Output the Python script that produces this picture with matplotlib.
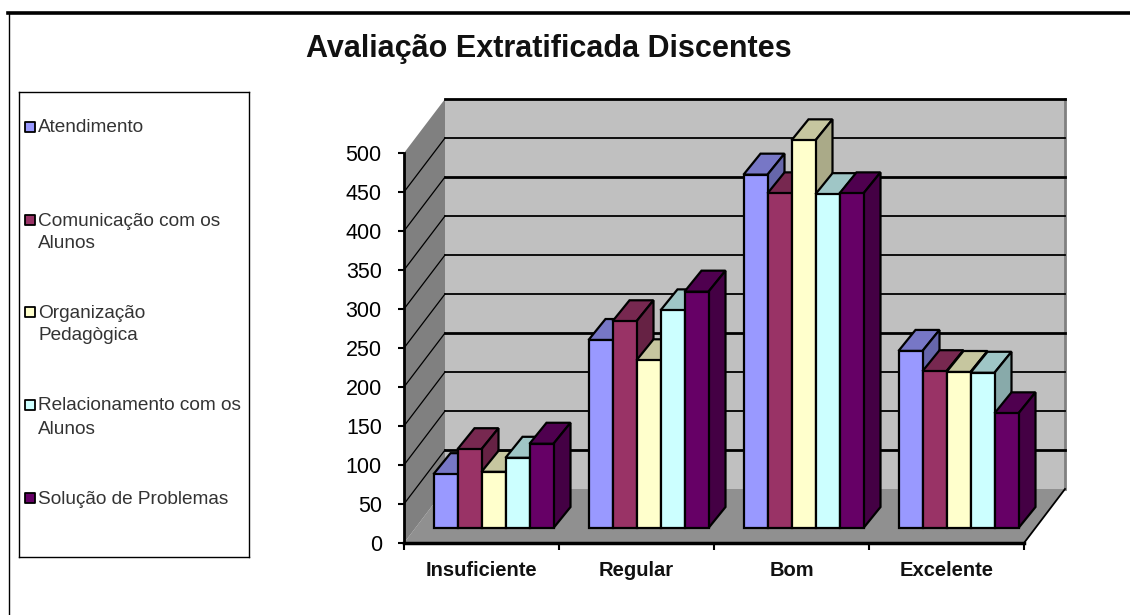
import matplotlib
matplotlib.use("Agg")
import matplotlib.pyplot as plt
from matplotlib.patches import Polygon

plt.rcParams['font.family'] = ['Liberation Sans', 'DejaVu Sans']

categories = ["Insuficiente", "Regular", "Bom", "Excelente"]
series = ["Atendimento", "Comunicação com os\nAlunos", "Organização\nPedagògica",
          "Relacionamento com os\nAlunos", "Solução de Problemas"]
atendimento = [69, 241, 453, 227]
comunicacao = [101, 265, 429, 201]
organizacao = [72, 215, 497, 200]
relacionamento = [90, 279, 428, 199]
solucao = [108, 303, 429, 147]
values = [atendimento, comunicacao, organizacao, relacionamento, solucao]
y_ticks = list(range(0, 501, 50))
thick_grid = [50, 200, 400, 500]

front = ["#9999FF", "#993366", "#FFFFCC", "#CCFFFF", "#660066"]
top = ["#7777C6", "#772850", "#C6C69F", "#9FC6C6", "#4F004F"]
side = ["#6666AA", "#662244", "#AAAA88", "#88AAAA", "#440044"]

W, H = 1130, 615
fig = plt.figure(figsize=(W / 100, H / 100), dpi=100)


def px_axes(x0, y0, x1, y1):
    return fig.add_axes([x0 / W, 1 - y1 / H, (x1 - x0) / W, (y1 - y0) / H])


# front plane of the chart, data units are category index and value
ax = px_axes(404, 153, 1024, 543)
ax.set_xlim(0, 4)
ax.set_ylim(0, 500)
ax.patch.set_visible(False)

# depth of the box and of the bars, in data units
box_dx, box_dy = 41 / 155, 54 / 0.78
bar_dx, bar_dy = 17 / 155, 21 / 0.78
lift_x, lift_y = 12 / 155, 15 / 0.78
bar_w = 24 / 155
gap = (1 - bar_w * 5) / 2


def poly(pts, fc, z, ec="none", lw=0):
    ax.add_patch(Polygon(pts, closed=True, facecolor=fc, edgecolor=ec, linewidth=lw,
                         zorder=z, clip_on=False, joinstyle="miter"))


poly([(box_dx, box_dy), (4 + box_dx, box_dy), (4 + box_dx, 500 + box_dy), (box_dx, 500 + box_dy)], "#C0C0C0", 1)
poly([(0, 0), (box_dx, box_dy), (4 + box_dx, box_dy), (4, 0)], "#909090", 1)
poly([(0, 0), (box_dx, box_dy), (box_dx, 500 + box_dy), (0, 500)], "#808080", 1)
ax.plot([4 + box_dx] * 2, [box_dy, 500 + box_dy], color="#808080", lw=2, zorder=1.5, clip_on=False)

for v in y_ticks[1:]:
    lw = 2.0 if v in thick_grid else 1.3
    ax.plot([box_dx, 4 + box_dx], [v + box_dy, v + box_dy], color="black", lw=lw, zorder=2, clip_on=False)
    if v < 500:
        ax.plot([0, box_dx], [v, v + box_dy], color="black", lw=0.9, zorder=2, clip_on=False)
ax.plot([4, 4 + box_dx], [0, box_dy], color="black", lw=1.3, zorder=2, clip_on=False)

z = 3
for c in range(len(categories)):
    for s in range(len(series)):
        x0 = c + gap + lift_x + s * bar_w
        x1 = x0 + bar_w
        y0 = lift_y
        y1 = lift_y + values[s][c]
        poly([(x0, y1), (x1, y1), (x1 + bar_dx, y1 + bar_dy), (x0 + bar_dx, y1 + bar_dy)],
             top[s], z, "black", 1.6)
        poly([(x1, y0), (x1 + bar_dx, y0 + bar_dy), (x1 + bar_dx, y1 + bar_dy), (x1, y1)],
             side[s], z, "black", 1.6)
        poly([(x0, y0), (x1, y0), (x1, y1), (x0, y1)], front[s], z, "black", 1.6)
        z += 1

ax.spines[["top", "right"]].set_visible(False)
ax.spines["left"].set_linewidth(2)
ax.spines["bottom"].set_linewidth(2.5)
ax.spines["left"].set_zorder(100)
ax.spines["bottom"].set_zorder(100)
ax.set_yticks(y_ticks)
ax.tick_params(axis="y", length=4.5, width=1.5, labelsize=15.5, pad=11.5)
ax.set_xticks(range(5))
ax.tick_params(axis="x", length=5, width=1.5, labelbottom=False)
for c, name in enumerate(categories):
    ax.text(c + 0.5, -35, name, ha="center", va="center", fontsize=14.5, fontweight="bold", color="#111111")

fig.text(549 / W, 1 - 49 / H, "Avaliação Extratificada Discentes", ha="center", va="center",
         fontsize=22, fontweight="bold", color="#111111")

# legend box drawn by hand because the rows are unevenly wrapped
leg = px_axes(19, 92, 249, 557)
leg.set_xlim(19, 249)
leg.set_ylim(557, 92)
leg.set_xticks([])
leg.set_yticks([])
for sp in leg.spines.values():
    sp.set_linewidth(1)
leg_rows = [127, 220, 312, 405, 498]
for name, col, row in zip(series, front, leg_rows):
    leg.scatter([30], [row], marker="s", s=42, facecolor=col, edgecolor="black", linewidth=1.3)
    lines = name.split("\n")
    leg.text(38, row + 1, lines[0], va="center", ha="left", fontsize=13.7, color="#333333")
    if len(lines) > 1:
        leg.text(38, row + 24, lines[1], va="center", ha="left", fontsize=13.7, color="#333333")

# page frame of the original slide
fig.add_artist(plt.Line2D([8 / W, 1], [1 - 12.5 / H] * 2, color="black", lw=2.6))
fig.add_artist(plt.Line2D([8.5 / W] * 2, [0, 1 - 12.5 / H], color="black", lw=1))

fig.savefig("out.png", dpi=100)
